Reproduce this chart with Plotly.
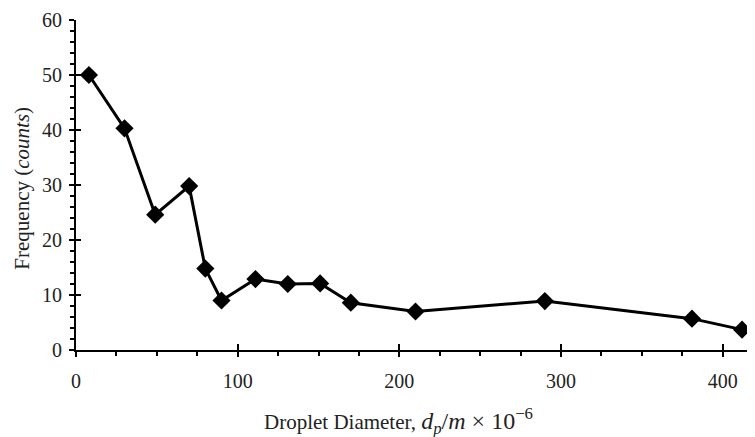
import plotly.graph_objects as go

diameter = [8, 30, 49, 70, 80, 90, 111, 131, 151, 170, 210, 290, 381, 412]
frequency = [50.0, 40.3, 24.6, 29.8, 14.8, 9.0, 12.9, 12.0, 12.1, 8.6, 7.0, 8.9, 5.7, 3.7]
x_range = [0, 420]
y_range = [0, 60]

font = dict(family="Liberation Serif, Times New Roman, serif", size=20, color="#222")
title_font = dict(family="Liberation Serif, Times New Roman, serif", size=21, color="#222")

fig = go.Figure()
fig.add_trace(go.Scatter(
    x=diameter, y=frequency, mode="lines+markers",
    line=dict(color="black", width=3),
    marker=dict(symbol="diamond", size=14, color="black"),
    showlegend=False, cliponaxis=False,
))
# invisible trace so the overlay axes (inner half of the major ticks) are drawn
fig.add_trace(go.Scatter(x=diameter[:1], y=frequency[:1], xaxis="x2", yaxis="y2",
                         mode="markers", marker=dict(opacity=0), hoverinfo="skip",
                         showlegend=False))

# page body has an 8px margin: shrink the figure so it fits the 755x437 window
fig.update_layout(
    width=747, height=429,
    margin=dict(l=68, r=0, t=12, b=87),
    paper_bgcolor="white", plot_bgcolor="white",
    font=font,
    xaxis=dict(
        range=x_range, dtick=100, tick0=0, showgrid=False, zeroline=False,
        showline=True, linecolor="black", linewidth=2,
        ticks="outside", ticklen=5, tickwidth=2, tickcolor="black",
        ticklabelstandoff=7,
        minor=dict(dtick=25, ticks="outside", ticklen=4, tickwidth=2, tickcolor="black", showgrid=False),
        tickfont=font,
    ),
    yaxis=dict(
        range=y_range, dtick=10, tick0=0, showgrid=False, zeroline=False,
        showline=True, linecolor="black", linewidth=2,
        ticks="outside", ticklen=5, tickwidth=2, tickcolor="black",
        ticklabelstandoff=3,
        minor=dict(dtick=2, ticks="outside", ticklen=4, tickwidth=2, tickcolor="black", showgrid=False),
        tickfont=font,
    ),
    xaxis2=dict(
        range=x_range, dtick=100, tick0=0, overlaying="x", anchor="y2",
        showgrid=False, zeroline=False, showline=False, showticklabels=False,
        ticks="inside", ticklen=6, tickwidth=2, tickcolor="black", side="bottom",
    ),
    yaxis2=dict(
        range=y_range, dtick=10, tick0=0, overlaying="y", anchor="x2",
        showgrid=False, zeroline=False, showline=False, showticklabels=False,
        ticks="inside", ticklen=5, tickwidth=2, tickcolor="black", side="left",
    ),
    annotations=[
        dict(text="Droplet Diameter, <span style='font-size:24px'><i>d</i><sub><i>p</i></sub>/<i>m</i> × 10<sup>−6</sup></span>",
             xref="paper", yref="paper", x=0.475, y=-0.215, xanchor="center", yanchor="middle",
             showarrow=False, font=title_font),
        dict(text="Frequency (<i>counts</i>)", xref="paper", yref="paper",
             x=-0.079, y=0.49, xanchor="center", yanchor="middle", textangle=-90,
             showarrow=False, font=title_font),
    ],
)

fig.write_html("out.html")
